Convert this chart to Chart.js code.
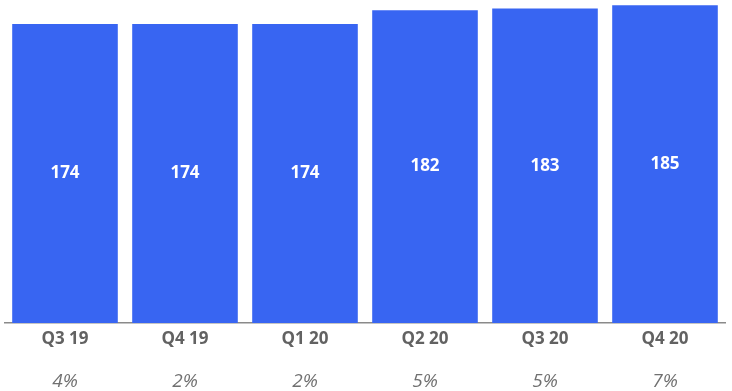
<!DOCTYPE html>
<html>
<head>
<meta charset="utf-8">
<script src="https://cdn.jsdelivr.net/npm/chart.js@4/dist/chart.umd.min.js"></script>
<style>
html,body{margin:0;padding:0;background:#fff;}
#c{display:block;}
</style>
</head>
<body>
<canvas id="c" width="732" height="391"></canvas>
<script>
const categories = ["Q3 19", "Q4 19", "Q1 20", "Q2 20", "Q3 20", "Q4 20"];
const values = [174, 174, 174, 182, 183, 185];
const growthLabels = ["4%", "2%", "2%", "5%", "5%", "7%"];

const labelPlugin = {
  id: 'labels',
  afterDraw(chart) {
    const ctx = chart.ctx;
    const x = chart.scales.x;
    const meta = chart.getDatasetMeta(0);
    ctx.save();
    ctx.textAlign = 'center';
    ctx.textBaseline = 'middle';
    ctx.fillStyle = '#ffffff';
    ctx.font = 'bold 17px "Open Sans", sans-serif';
    meta.data.forEach((bar, i) => {
      const mid = (bar.y + bar.base) / 2;
      ctx.fillText(String(values[i]), bar.x, mid);
    });
    ctx.fillStyle = '#626262';
    ctx.font = 'bold 17px "Open Sans", sans-serif';
    categories.forEach((c, i) => {
      ctx.fillText(c, x.getPixelForValue(i), chart.chartArea.bottom + 16);
    });
    ctx.fillStyle = '#707070';
    ctx.font = 'italic 19px "Open Sans", sans-serif';
    growthLabels.forEach((g, i) => {
      ctx.fillText(g, x.getPixelForValue(i), chart.chartArea.bottom + 59);
    });
    ctx.restore();
  }
};

new Chart(document.getElementById('c'), {
  type: 'bar',
  data: {
    labels: categories,
    datasets: [{
      data: values,
      backgroundColor: '#3865f2',
      borderWidth: 0,
      barPercentage: 0.88,
      categoryPercentage: 1.0
    }]
  },
  options: {
    responsive: false,
    animation: false,
    devicePixelRatio: 1,
    layout: { padding: { left: 5, right: 7, top: 0, bottom: 68 } },
    plugins: { legend: { display: false }, tooltip: { enabled: false } },
    scales: {
      x: {
        display: true,
        grid: { display: false, drawTicks: false },
        border: { display: true, color: '#8a8a8a', width: 1.5 },
        ticks: { display: false }
      },
      y: {
        display: false,
        min: 0,
        max: 188
      }
    }
  },
  plugins: [labelPlugin]
});
</script>
</body>
</html>
